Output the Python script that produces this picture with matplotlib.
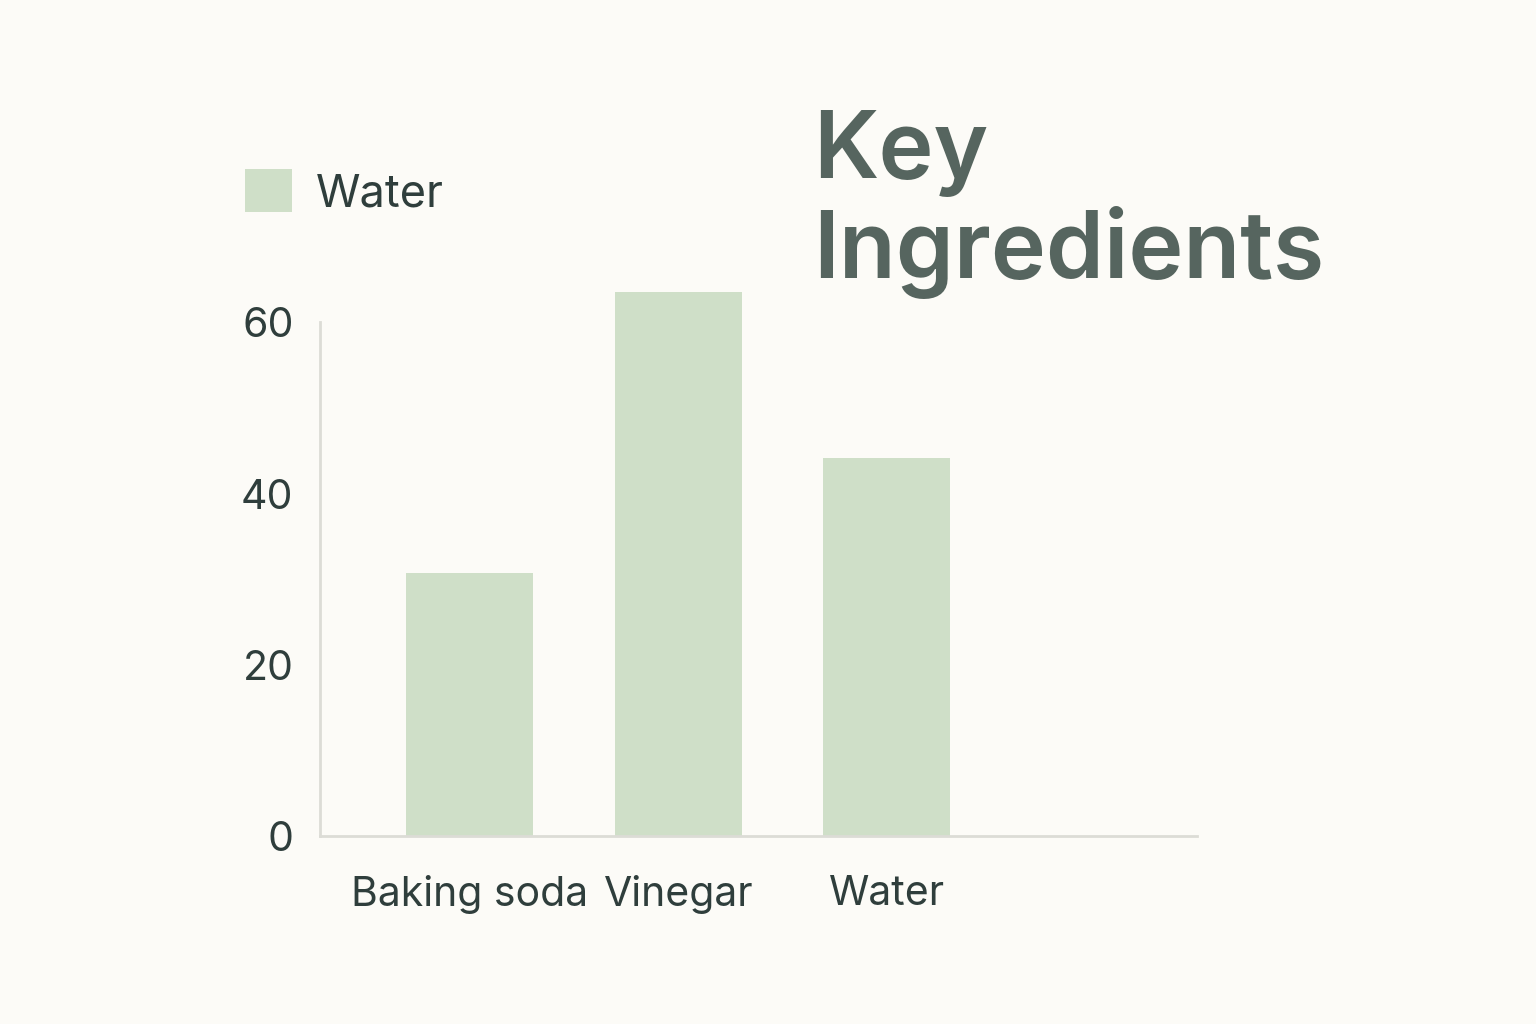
import matplotlib
matplotlib.use("Agg")
import matplotlib.pyplot as plt
from matplotlib.patches import Patch

# data
categories = ["Baking soda", "Vinegar", "Water"]
values = [30.7, 63.5, 44.1]
y_ticks = [0, 20, 40, 60]
legend_label = "Water"
title = "Key\nIngredients"

BG = "#fcfbf7"
BAR = "#cfdfc8"
TEXT = "#2f3e3c"
TITLE = "#56655f"
AXIS = "#dcdcd6"

plt.rcParams["font.family"] = ["Inter", "DejaVu Sans"]

fig = plt.figure(figsize=(15.36, 10.24), dpi=100, facecolor=BG)
ax = fig.add_axes([0.2083, 0.1836, 0.571, 0.5518])
ax.set_facecolor(BG)

x = range(len(categories))
ax.bar(x, values, width=0.61, color=BAR, clip_on=False, zorder=2)

ax.set_xlim(-0.72, 3.49)
ax.set_ylim(0, 66)
ax.set_yticks(y_ticks)
ax.set_xticks(list(x))
ax.set_xticklabels(categories)

for side in ["top", "right"]:
    ax.spines[side].set_visible(False)
ax.spines["left"].set_bounds(0, 60)
ax.spines["left"].set_color(AXIS)
ax.spines["bottom"].set_color(AXIS)
ax.spines["left"].set_linewidth(2)
ax.spines["bottom"].set_linewidth(2)

ax.tick_params(axis="y", length=0, pad=19, labelsize=29.5, labelcolor=TEXT)
ax.tick_params(axis="x", length=0, pad=28, labelsize=29.5, labelcolor=TEXT)

handle = Patch(facecolor=BAR, edgecolor="none")
fig.legend([handle], [legend_label], loc="center left",
           bbox_to_anchor=(0.1595, 0.8125), frameon=False,
           fontsize=32.5, labelcolor=TEXT, borderpad=0, borderaxespad=0,
           handlelength=1.05, handleheight=1.1, handletextpad=0.52)

fig.text(0.5295, 0.893, title, fontsize=67, fontweight="semibold",
         color=TITLE, ha="left", va="top", linespacing=1.13)

fig.savefig("out.png", dpi=100, facecolor=BG)
